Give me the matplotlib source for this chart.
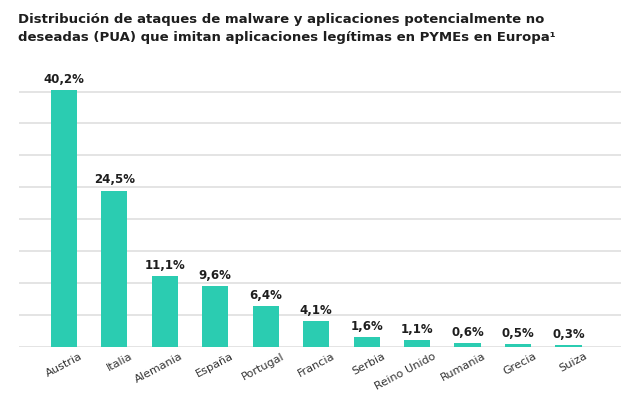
import matplotlib.pyplot as plt
import matplotlib.transforms as mtransforms

# Data
countries = ['Austria', 'Italia', 'Alemania', 'España', 'Portugal', 'Francia',
             'Serbia', 'Reino Unido', 'Rumania', 'Grecia', 'Suiza']
shares = [40.2, 24.5, 11.1, 9.6, 6.4, 4.1, 1.6, 1.1, 0.6, 0.5, 0.3]
value_labels = ['40,2%', '24,5%', '11,1%', '9,6%', '6,4%', '4,1%',
                '1,6%', '1,1%', '0,6%', '0,5%', '0,3%']
y_ticks = [0, 5, 10, 15, 20, 25, 30, 35, 40]

bar_color = '#2bccb1'
text_color = '#1e1e1e'

fig = plt.figure(figsize=(6.33, 3.93), dpi=100)
ax = fig.add_axes([0.030, 0.117, 0.951, 0.655])

x = range(len(countries))
ax.bar(x, shares, width=0.52, color=bar_color, zorder=3)

# Value labels above each bar
for xi, val, lab in zip(x, shares, value_labels):
    ax.annotate(lab, (xi, val), xytext=(0, 3), textcoords='offset points',
                ha='center', va='bottom', fontsize=8.5, fontweight='bold',
                color=text_color, zorder=4)

ax.set_xlim(-0.89, 11.04)
ax.set_ylim(0, 40.3)
ax.set_yticks(y_ticks)
ax.yaxis.grid(True, color='#dcdcdc', linewidth=1.1, zorder=0)
ax.tick_params(axis='y', left=False, labelleft=False)
ax.tick_params(axis='x', bottom=False, pad=0)
for s in ax.spines.values():
    s.set_visible(False)

ax.set_xticks(list(x))
ax.set_xticklabels(countries, rotation=28, ha='right', rotation_mode='anchor',
                   fontsize=8.1, color='#333333')
offset = mtransforms.ScaledTranslation(11 / 72, 0.5 / 72, fig.dpi_scale_trans)
for lbl in ax.get_xticklabels():
    lbl.set_transform(lbl.get_transform() + offset)

# Title
fig.text(0.028, 0.968,
         'Distribución de ataques de malware y aplicaciones potencialmente no\n'
         'deseadas (PUA) que imitan aplicaciones legítimas en PYMEs en Europa¹',
         ha='left', va='top', fontsize=9.5, fontweight='bold', color=text_color,
         linespacing=1.55)

fig.savefig('out.png', dpi=100)
